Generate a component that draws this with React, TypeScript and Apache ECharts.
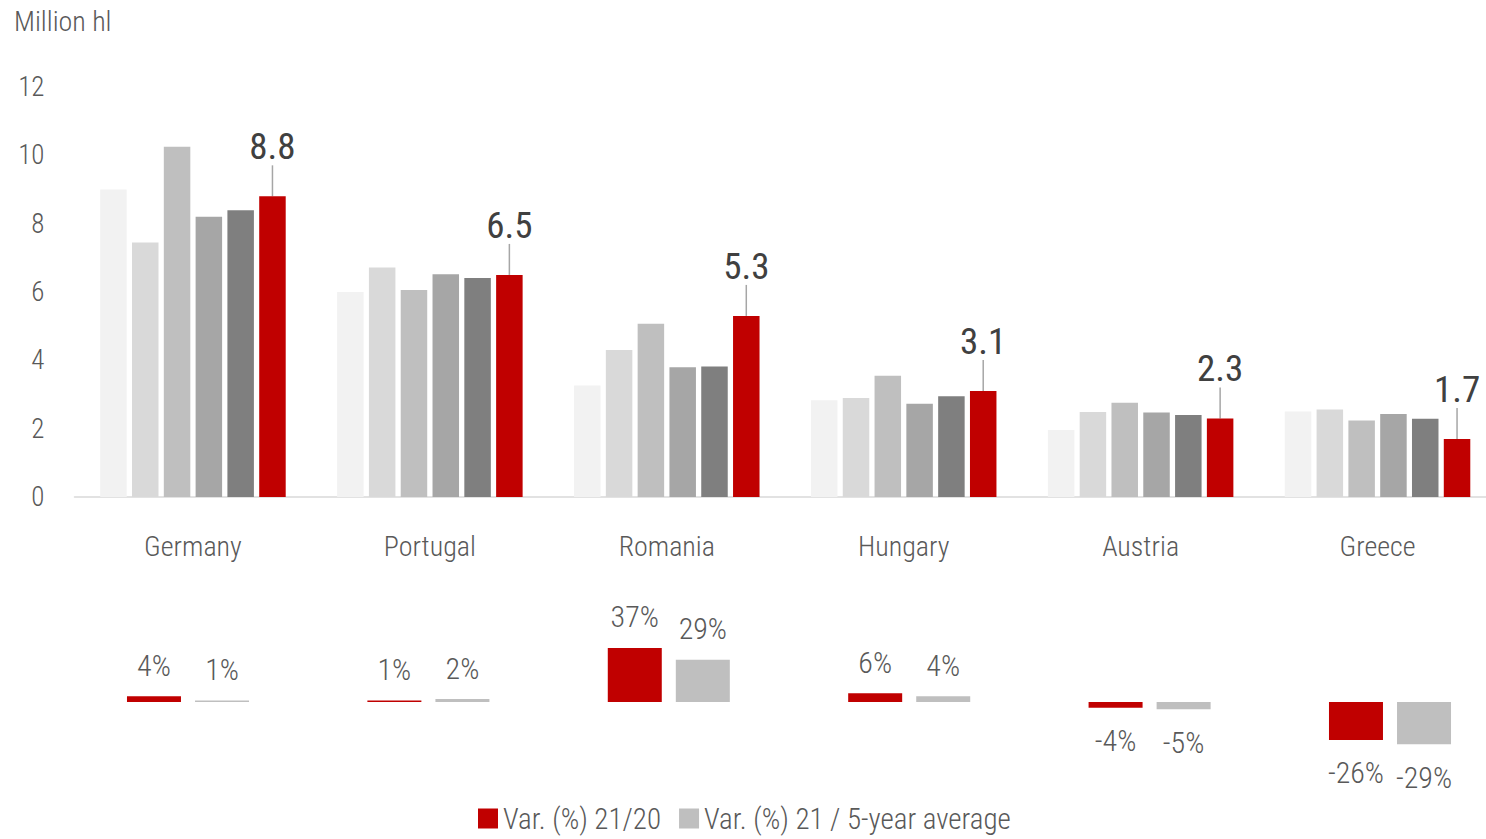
import React, { useEffect, useRef } from "react";
import * as echarts from "echarts";

const categories = ["Germany", "Portugal", "Romania", "Hungary", "Austria", "Greece"];
const yearNames = ["2016", "2017", "2018", "2019", "2020", "2021"];
const v2016 = [9.0, 6.0, 3.26, 2.83, 1.96, 2.5];
const v2017 = [7.45, 6.72, 4.3, 2.9, 2.49, 2.56];
const v2018 = [10.25, 6.06, 5.07, 3.55, 2.76, 2.24];
const v2019 = [8.2, 6.52, 3.8, 2.73, 2.47, 2.43];
const v2020 = [8.39, 6.41, 3.82, 2.95, 2.4, 2.29];
const v2021 = [8.8, 6.5, 5.3, 3.1, 2.3, 1.7];
const varPrev = [4, 1, 37, 6, -4, -26];
const varAvg = [1, 2, 29, 4, -5, -29];
const yTicks = { min: 0, max: 12, interval: 2 };
const legendNames = ["Var. (%) 21/20", "Var. (%) 21 / 5-year average"];

const greys = ["#f2f2f2", "#d9d9d9", "#bfbfbf", "#a6a6a6", "#7f7f7f"];
const RED = "#c00000";
const GREY = "#bfbfbf";
const TEXT = "#595959";
const FONT = "'Roboto Condensed', 'Liberation Sans Narrow', 'DejaVu Sans Condensed', 'Roboto', sans-serif";

export default function App() {
  const ref = useRef<HTMLDivElement>(null);
  useEffect(() => {
    document.body.style.margin = "0";
    document.body.style.overflow = "hidden";
    document.documentElement.style.overflow = "hidden";
    const chart = echarts.init(ref.current!, null, { renderer: "svg" });
    const yearData = [v2016, v2017, v2018, v2019, v2020];
    const greySeries = yearData.map((d, i) => ({
      name: yearNames[i],
      type: "bar",
      xAxisIndex: 0,
      yAxisIndex: 0,
      barWidth: 26.5,
      barGap: "20%",
      itemStyle: { color: greys[i] },
      data: d,
    }));
    const redSeries = {
      name: yearNames[5],
      type: "bar",
      xAxisIndex: 0,
      yAxisIndex: 0,
      barWidth: 26.5,
      barGap: "20%",
      itemStyle: { color: RED },
      data: v2021,
      label: {
        show: true,
        position: "top",
        distance: 0,
        fontSize: 37,
        color: "#404040",
        formatter: (p: any) => p.value.toFixed(1),
      },
      labelLayout: { dy: -31 },
      labelLine: { show: true, lineStyle: { color: "#a6a6a6", width: 1.5 } },
    };
    const mkVar = (arr: number[]) =>
      arr.map((v) => ({
        value: v,
        label: { position: v >= 0 ? "top" : "bottom", distance: v >= 0 ? 16 : 18 },
      }));
    const varLabel = {
      show: true,
      fontSize: 30,
      fontWeight: 300,
      color: TEXT,
      formatter: (p: any) => `${p.value}%`,
    };

    chart.setOption({
      animation: false,
      textStyle: { fontFamily: FONT },
      title: {
        text: "Million hl",
        left: 9,
        top: 2,
        textStyle: { fontSize: 28, fontWeight: 300, color: TEXT, fontFamily: FONT },
      },
      legend: {
        data: legendNames,
        bottom: 1,
        left: 473,
        itemWidth: 20,
        itemHeight: 20,
        itemGap: 18,
        icon: "rect",
        textStyle: { fontSize: 29, fontWeight: 300, color: TEXT, fontFamily: FONT },
      },
      grid: [
        { left: 74.5, width: 1421.5, top: 87, height: 410 },
        { left: 67.8, width: 1442.4, top: 643.6, height: 116.8 },
      ],
      xAxis: [
        {
          type: "category",
          gridIndex: 0,
          data: categories,
          axisLine: { lineStyle: { color: "#d9d9d9", width: 1.5 } },
          axisTick: { show: false },
          axisLabel: { fontSize: 28, fontWeight: 300, color: TEXT, margin: 35, fontFamily: FONT },
        },
        {
          type: "category",
          gridIndex: 1,
          data: categories,
          show: false,
        },
      ],
      yAxis: [
        {
          type: "value",
          gridIndex: 0,
          min: yTicks.min,
          max: yTicks.max,
          interval: yTicks.interval,
          splitLine: { show: false },
          axisLine: { show: false },
          axisTick: { show: false },
          axisLabel: { fontSize: 27, fontWeight: 300, color: TEXT, margin: 30, fontFamily: FONT },
        },
        {
          type: "value",
          gridIndex: 1,
          min: -40,
          max: 40,
          show: false,
          splitLine: { show: false },
        },
      ],
      series: [
        ...greySeries,
        redSeries,
        {
          name: legendNames[0],
          type: "bar",
          xAxisIndex: 1,
          yAxisIndex: 1,
          barWidth: 54,
          barGap: "26%",
          itemStyle: { color: RED },
          label: varLabel,
          data: mkVar(varPrev),
        },
        {
          name: legendNames[1],
          type: "bar",
          xAxisIndex: 1,
          yAxisIndex: 1,
          barWidth: 54,
          barGap: "26%",
          itemStyle: { color: GREY },
          label: varLabel,
          data: mkVar(varAvg),
        },
      ],
    });
    return () => chart.dispose();
  }, []);
  return <div ref={ref} style={{ width: 1520, height: 839 }} />;
}
